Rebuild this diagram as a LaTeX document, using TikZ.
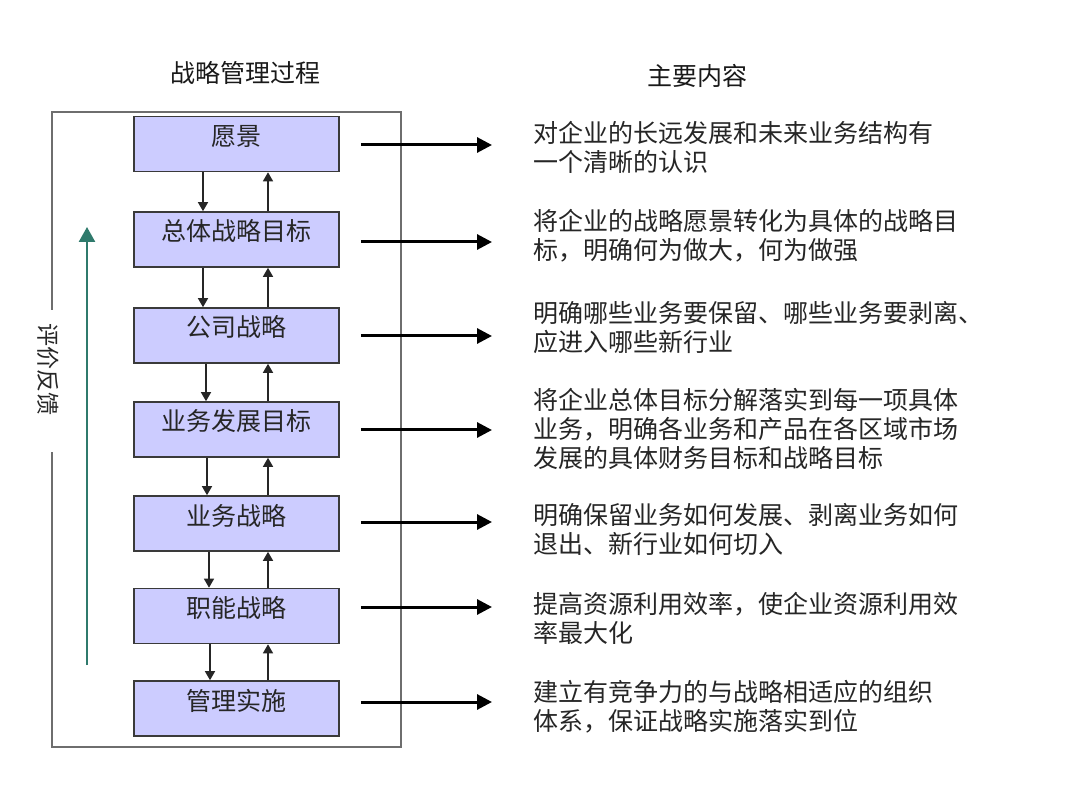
\documentclass[tikz,border=0pt]{standalone}
\usepackage{fontspec}
\setmainfont{Noto Sans CJK SC}
\usetikzlibrary{arrows.meta}
\definecolor{boxfill}{HTML}{CCCCFF}
\definecolor{boxline}{HTML}{3A3A3A}
\definecolor{framecol}{HTML}{6E6E6E}
\definecolor{fbgreen}{HTML}{2F7A6C}
\definecolor{txtcol}{HTML}{262626}
\tikzset{
  stagebox/.style={draw=boxline, line width=1.6pt, fill=boxfill, minimum width=205pt, minimum height=55pt, inner sep=0pt, text height=20pt, text depth=17pt, text=txtcol, font=\fontsize{25}{29}\selectfont},
  downar/.style={draw=black!85, line width=1.4pt, -{Triangle[length=9pt,width=10pt]}},
  outar/.style={draw=black, line width=3pt, -{Triangle[length=15pt,width=15pt]}},
  desc/.style={anchor=north west, inner sep=0pt, align=left, text=txtcol, font=\fontsize{25}{29}\selectfont},
  heading/.style={text=black!90, font=\fontsize{25}{29}\selectfont, inner sep=0pt}
}
\begin{document}
\begin{tikzpicture}[x=1pt,y=-1pt]
\useasboundingbox (0,0) rectangle (1080,810);
\fill[white] (0,0) rectangle (1080,810);
% titles
\node[heading] (h1) at (245,73) {战略管理过程};
\node[heading] (h2) at (697,76) {主要内容};
% frame
\draw[framecol, line width=1.8pt] (52,310) -- (52,112) -- (401,112) -- (401,747) -- (52,747) -- (52,452);
\node[text=txtcol, rotate=-90, font=\fontsize{23}{24}\selectfont, inner sep=0pt] (fb) at (48,370) {评价反馈};
% feedback arrow
\coordinate (g0) at (87,665);
\coordinate (g1) at (87,227);
\draw[fbgreen, line width=2.5pt, -{Triangle[length=15pt,width=16pt]}] (g0) -- (g1);
% boxes
\node[stagebox] (b1) at (236.5,144) {愿景};
\node[stagebox] (b2) at (236.5,239.5) {总体战略目标};
\node[stagebox] (b3) at (236.5,335.5) {公司战略};
\node[stagebox] (b4) at (236.5,429.5) {业务发展目标};
\node[stagebox] (b5) at (236.5,523.5) {业务战略};
\node[stagebox] (b6) at (236.5,616) {职能战略};
\node[stagebox] (b7) at (236.5,708.5) {管理实施};
% down arrows
\draw[downar] (203,0 |- b1.south) -- (203,0 |- b2.north);
\draw[downar] (203,0 |- b2.south) -- (203,0 |- b3.north);
\draw[downar] (206,0 |- b3.south) -- (206,0 |- b4.north);
\draw[downar] (207,0 |- b4.south) -- (207,0 |- b5.north);
\draw[downar] (209,0 |- b5.south) -- (209,0 |- b6.north);
\draw[downar] (210,0 |- b6.south) -- (210,0 |- b7.north);
% up arrows
\draw[downar] (268,0 |- b2.north) -- (268,0 |- b1.south);
\draw[downar] (268,0 |- b3.north) -- (268,0 |- b2.south);
\draw[downar] (268,0 |- b4.north) -- (268,0 |- b3.south);
\draw[downar] (268,0 |- b5.north) -- (268,0 |- b4.south);
\draw[downar] (268,0 |- b6.north) -- (268,0 |- b5.south);
\draw[downar] (268,0 |- b7.north) -- (268,0 |- b6.south);
% descriptions
\node[desc] (d1) at (533,121) {对企业的长远发展和未来业务结构有\\一个清晰的认识};
\node[desc] (d2) at (533,209) {将企业的战略愿景转化为具体的战略目\\标，明确何为做大，何为做强};
\node[desc] (d3) at (533,301) {明确哪些业务要保留、哪些业务要剥离、\\应进入哪些新行业};
\node[desc] (d4) at (533,388) {将企业总体目标分解落实到每一项具体\\业务，明确各业务和产品在各区域市场\\发展的具体财务目标和战略目标};
\node[desc] (d5) at (533,503) {明确保留业务如何发展、剥离业务如何\\退出、新行业如何切入};
\node[desc] (d6) at (533,592) {提高资源利用效率，使企业资源利用效\\率最大化};
\node[desc] (d7) at (533,680) {建立有竞争力的与战略相适应的组织\\体系，保证战略实施落实到位};
% output arrows
\coordinate (t1) at (492,145);
\coordinate (t2) at (492,242);
\coordinate (t3) at (492,336);
\coordinate (t4) at (492,430);
\coordinate (t5) at (492,522);
\coordinate (t6) at (492,607);
\coordinate (t7) at (492,702);
\draw[outar] (b1.east |- t1) ++(21,0) -- (t1);
\draw[outar] (b2.east |- t2) ++(21,0) -- (t2);
\draw[outar] (b3.east |- t3) ++(21,0) -- (t3);
\draw[outar] (b4.east |- t4) ++(21,0) -- (t4);
\draw[outar] (b5.east |- t5) ++(21,0) -- (t5);
\draw[outar] (b6.east |- t6) ++(21,0) -- (t6);
\draw[outar] (b7.east |- t7) ++(21,0) -- (t7);
\end{tikzpicture}
\end{document}
